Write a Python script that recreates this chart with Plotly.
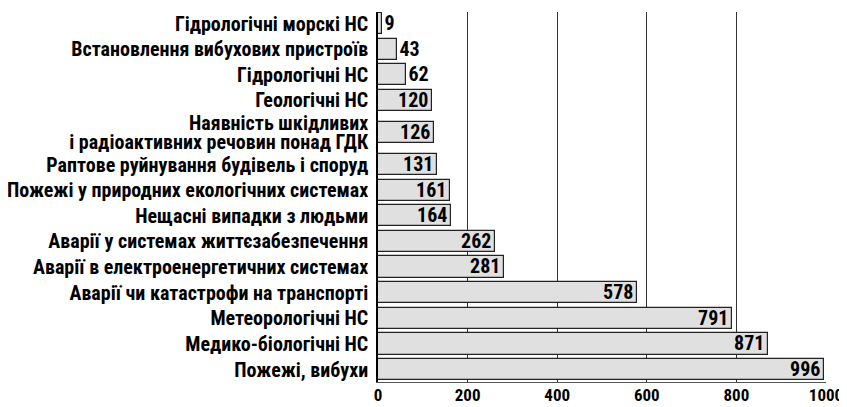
import plotly.graph_objects as go

categories = [
    "Пожежі, вибухи",
    "Медико-біологічні НС",
    "Метеорологічні НС",
    "Аварії чи катастрофи на транспорті",
    "Аварії в електроенергетичних системах",
    "Аварії у системах життєзабезпечення",
    "Нещасні випадки з людьми",
    "Пожежі у природних екологічних системах",
    "Раптове руйнування будівель і споруд",
    "Наявність шкідливих<br>і радіоактивних речовин понад ГДК",
    "Геологічні НС",
    "Гідрологічні НС",
    "Встановлення вибухових пристроїв",
    "Гідрологічні морскі НС",
]
values = [996, 871, 791, 578, 281, 262, 164, 161, 131, 126, 120, 62, 43, 9]
x_ticks = [0, 200, 400, 600, 800, 1000]

# layout: two-line labels get a taller slot
positions = []
cur = 0.0
prev_h = None
for c in categories:
    h = 1.0 + 0.5 * c.count("<br>")
    if prev_h is None:
        cur = 0.0
    else:
        cur += prev_h / 2 + h / 2
    positions.append(cur)
    prev_h = h

# tick labels: multi-line labels split into tightly spaced lines
LINE_STEP = 0.76  # in slot units (tight line spacing)
tick_vals, tick_text = [], []
for p, c in zip(positions, categories):
    lines = c.split("<br>")
    n = len(lines)
    for i, ln in enumerate(lines):
        tick_vals.append(p + (n - 1) / 2 * LINE_STEP - i * LINE_STEP)
        tick_text.append(ln)

FONT = "Roboto Condensed, Arial Narrow, sans-serif"
textpos = ["outside" if v < 100 else "inside" for v in values]

fig = go.Figure(go.Bar(
    x=values, y=positions, orientation="h",
    width=0.83,
    marker=dict(color="#e0e0e0", line=dict(color="#222222", width=1.2)),
    text=[str(v) for v in values],
    textposition=textpos,
    insidetextanchor="end",
    textfont=dict(family=FONT, size=20, color="black", weight="bold"),
    cliponaxis=False,
))

# page body has an 8px default margin, so the figure is sized to fit the window
fig.update_layout(
    width=839, height=399,
    margin=dict(l=370, r=21, t=4, b=25),
    plot_bgcolor="white", paper_bgcolor="white",
    showlegend=False,
    font=dict(family=FONT, size=20, color="black", weight="bold"),
    uniformtext=dict(minsize=20, mode="show"),
    bargap=0,
)
fig.update_xaxes(
    range=[0, 1000], tickvals=x_ticks, ticktext=[str(t) for t in x_ticks],
    showgrid=True, gridcolor="#333333", gridwidth=1.3,
    zeroline=False, showline=True, linecolor="#555555", linewidth=1.2,
    ticks="", ticklabelstandoff=-3,
    tickfont=dict(family=FONT, size=17, color="black", weight="bold"),
    mirror=False, automargin=False,
)
fig.update_yaxes(
    range=[-0.48, positions[-1] + 0.45],
    tickvals=tick_vals, ticktext=tick_text,
    showgrid=False, zeroline=False,
    showline=True, linecolor="black", linewidth=1.5,
    ticks="", ticklabelstandoff=4, automargin=False,
    tickfont=dict(family=FONT, size=20, color="black", weight="bold"),
)

fig.write_html("out.html")
